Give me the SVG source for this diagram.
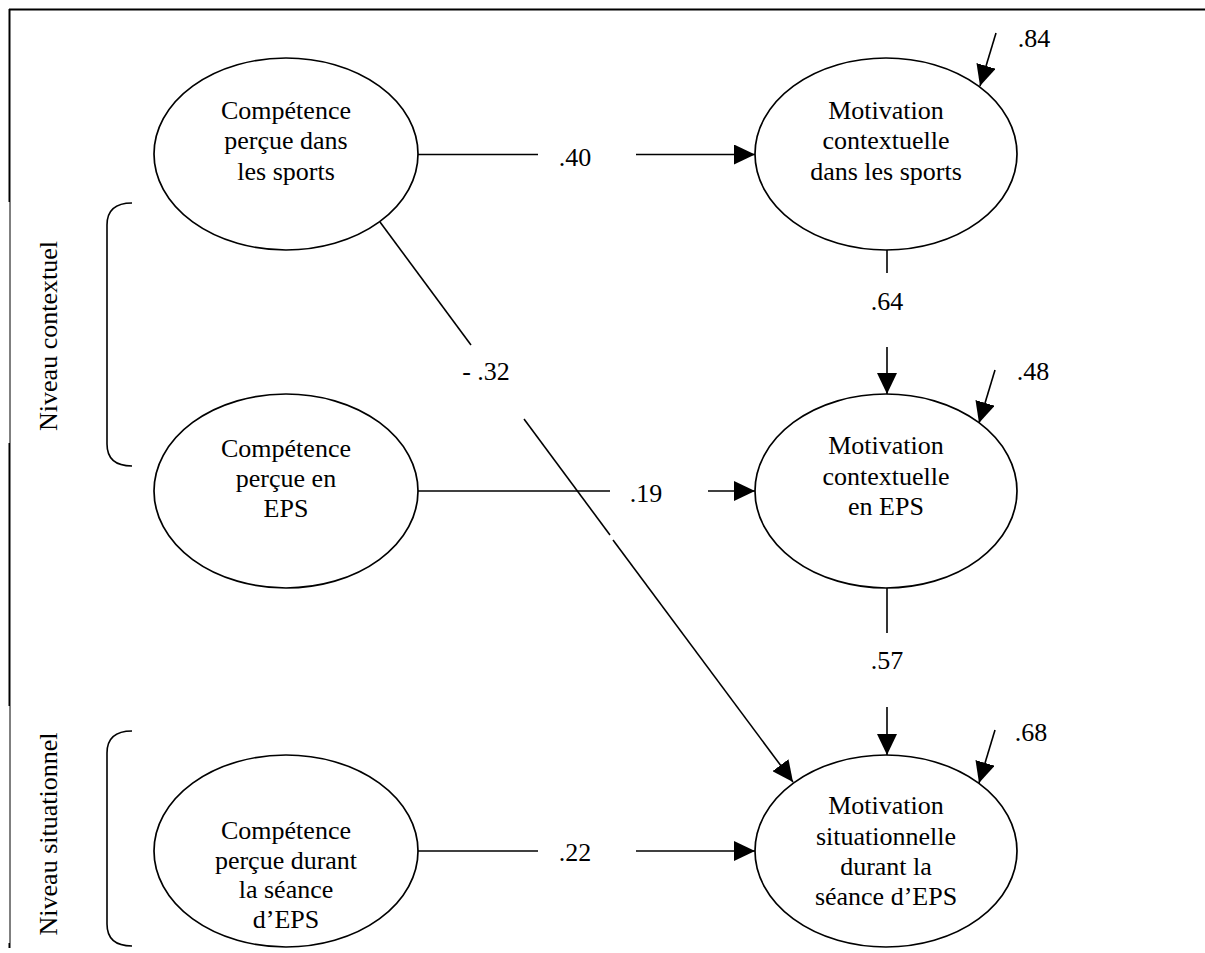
<svg xmlns="http://www.w3.org/2000/svg" width="1205" height="953" viewBox="0 0 1205 953" font-family="'Liberation Serif', Tinos, 'Times New Roman', 'DejaVu Serif', serif">
<style>
.node ellipse{fill:#fff;stroke:#000;stroke-width:1.7}
text{font-size:26px;fill:#000;text-anchor:middle}
.edge line{stroke:#000;stroke-width:1.6;fill:none}
.arr{marker-end:url(#ah)}
.frame{stroke:#000;fill:none}
.br{stroke:#000;stroke-width:1.6;fill:none}
</style>
<defs>
<marker id="ah" markerUnits="userSpaceOnUse" markerWidth="21" markerHeight="20" refX="21" refY="10" orient="auto">
<path d="M0,0 L21,10 L0,20 Z" fill="#000"/>
</marker>
</defs>
<rect width="1205" height="953" fill="#fff"/>
<g id="frame">
<line class="frame" x1="9" y1="9.5" x2="1205" y2="9.5" stroke-width="2"/>
<line class="frame" x1="9.5" y1="9" x2="9.5" y2="202" stroke-width="2"/>
<line class="frame" x1="10" y1="202" x2="10" y2="443" stroke-width="1"/>
<line class="frame" x1="9.5" y1="443" x2="9.5" y2="706" stroke-width="2"/>
<line class="frame" x1="10" y1="706" x2="10" y2="943" stroke-width="1"/>
<line class="frame" x1="9.5" y1="943" x2="9.5" y2="948" stroke-width="2"/>
</g>
<g id="levels">
<path class="br" d="M132,203 Q107,203 107,225 L107,444 Q107,466 132,466"/>
<path class="br" d="M132,731 Q107,731 107,753 L107,924 Q107,946 132,946"/>
<text font-family="Liberation Serif" transform="translate(57,336) rotate(-90)">Niveau contextuel</text>
<text font-family="Liberation Serif" transform="translate(57,834) rotate(-90)">Niveau situationnel</text>
</g>
<g id="edges" class="edge">
<line x1="418" y1="154.5" x2="538" y2="154.5"/>
<line class="arr" x1="636" y1="154.5" x2="755" y2="154.5"/>
<line x1="418" y1="491" x2="610" y2="491"/>
<line class="arr" x1="708" y1="491" x2="755" y2="491"/>
<line x1="418" y1="851" x2="538" y2="851"/>
<line class="arr" x1="636" y1="851" x2="755" y2="851"/>
<line x1="887" y1="250" x2="887" y2="273"/>
<line class="arr" x1="887" y1="347" x2="887" y2="394"/>
<line x1="887" y1="588" x2="887" y2="633"/>
<line class="arr" x1="887" y1="707" x2="887" y2="755"/>
<line x1="380" y1="222" x2="471" y2="345"/>
<line x1="524" y1="419" x2="610" y2="535"/>
<line class="arr" x1="613" y1="540" x2="793" y2="782"/>
<line class="arr" x1="996" y1="33" x2="980" y2="86"/>
<line class="arr" x1="995" y1="370" x2="979" y2="423"/>
<line class="arr" x1="995" y1="730" x2="979" y2="783"/>
</g>
<g id="edge-labels" font-family="Liberation Serif">
<text x="575" y="166">.40</text>
<text x="887" y="310">.64</text>
<text x="486" y="380">- .32</text>
<text x="646" y="502">.19</text>
<text x="887" y="669">.57</text>
<text x="575" y="861">.22</text>
<text x="1034" y="47">.84</text>
<text x="1033" y="380">.48</text>
<text x="1031" y="741">.68</text>
</g>
<g id="n1" class="node" font-family="Liberation Serif">
<ellipse cx="286" cy="154" rx="132" ry="96"/>
<text x="286" y="119">Compétence</text>
<text x="286" y="149">perçue dans</text>
<text x="286" y="180">les sports</text>
</g>
<g id="n2" class="node" font-family="Liberation Serif">
<ellipse cx="286" cy="491" rx="132" ry="97"/>
<text x="286" y="457">Compétence</text>
<text x="286" y="487">perçue en</text>
<text x="286" y="517">EPS</text>
</g>
<g id="n3" class="node" font-family="Liberation Serif">
<ellipse cx="286" cy="851" rx="132" ry="96"/>
<text x="286" y="839">Compétence</text>
<text x="286" y="869">perçue durant</text>
<text x="286" y="898">la séance</text>
<text x="286" y="928">d’EPS</text>
</g>
<g id="n4" class="node" font-family="Liberation Serif">
<ellipse cx="886" cy="154" rx="131" ry="96"/>
<text x="886" y="119">Motivation</text>
<text x="886" y="149">contextuelle</text>
<text x="886" y="180">dans les sports</text>
</g>
<g id="n5" class="node" font-family="Liberation Serif">
<ellipse cx="886" cy="491" rx="131" ry="97"/>
<text x="886" y="454">Motivation</text>
<text x="886" y="485">contextuelle</text>
<text x="886" y="515">en EPS</text>
</g>
<g id="n6" class="node" font-family="Liberation Serif">
<ellipse cx="886" cy="851" rx="131" ry="96"/>
<text x="886" y="814">Motivation</text>
<text x="886" y="845">situationnelle</text>
<text x="886" y="875">durant la</text>
<text x="886" y="905">séance d’EPS</text>
</g>
</svg>
